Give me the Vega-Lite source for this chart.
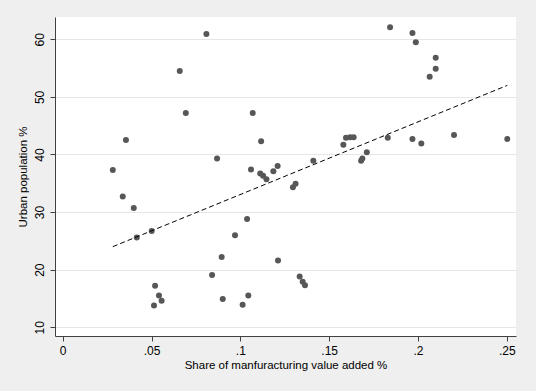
{
  "$schema": "https://vega.github.io/schema/vega-lite/v6.json",
  "width": 461,
  "height": 319,
  "autosize": {"type": "none"},
  "padding": {"left": 55, "top": 17, "right": 20, "bottom": 55},
  "background": "#efefef",
  "config": {
    "view": {"fill": "white", "stroke": null},
    "font": "Liberation Sans",
    "axis": {
      "labelFont": "Liberation Sans",
      "titleFont": "Liberation Sans",
      "labelFontSize": 12,
      "titleFontSize": 11.5,
      "titleFontWeight": "normal",
      "labelColor": "#000000",
      "titleColor": "#000000",
      "domainColor": "#404040",
      "tickColor": "#404040",
      "tickSize": 5,
      "gridColor": "#e6e6e6",
      "gridWidth": 1
    }
  },
  "datasets": {
    "pts": [
      {"share": 0.0809, "urban": 60.9},
      {"share": 0.0659, "urban": 54.5},
      {"share": 0.0693, "urban": 47.2},
      {"share": 0.0356, "urban": 42.5},
      {"share": 0.0282, "urban": 37.3},
      {"share": 0.0338, "urban": 32.7},
      {"share": 0.0400, "urban": 30.7},
      {"share": 0.0417, "urban": 25.6},
      {"share": 0.0501, "urban": 26.7},
      {"share": 0.0520, "urban": 17.2},
      {"share": 0.0542, "urban": 15.5},
      {"share": 0.0557, "urban": 14.6},
      {"share": 0.0514, "urban": 13.8},
      {"share": 0.0869, "urban": 39.3},
      {"share": 0.0841, "urban": 19.1},
      {"share": 0.0895, "urban": 22.2},
      {"share": 0.0970, "urban": 26.0},
      {"share": 0.1038, "urban": 28.8},
      {"share": 0.0901, "urban": 14.9},
      {"share": 0.1013, "urban": 13.9},
      {"share": 0.1045, "urban": 15.5},
      {"share": 0.1070, "urban": 47.2},
      {"share": 0.1117, "urban": 42.3},
      {"share": 0.1060, "urban": 37.4},
      {"share": 0.1112, "urban": 36.7},
      {"share": 0.1128, "urban": 36.3},
      {"share": 0.1147, "urban": 35.7},
      {"share": 0.1186, "urban": 37.1},
      {"share": 0.1210, "urban": 38.0},
      {"share": 0.1212, "urban": 21.6},
      {"share": 0.1334, "urban": 18.8},
      {"share": 0.1351, "urban": 17.9},
      {"share": 0.1364, "urban": 17.3},
      {"share": 0.1311, "urban": 34.9},
      {"share": 0.1296, "urban": 34.3},
      {"share": 0.1411, "urban": 38.9},
      {"share": 0.1580, "urban": 41.7},
      {"share": 0.1595, "urban": 42.9},
      {"share": 0.1618, "urban": 43.0},
      {"share": 0.1638, "urban": 43.0},
      {"share": 0.1712, "urban": 40.4},
      {"share": 0.1687, "urban": 39.3},
      {"share": 0.1680, "urban": 38.9},
      {"share": 0.1843, "urban": 62.1},
      {"share": 0.1969, "urban": 61.1},
      {"share": 0.1988, "urban": 59.5},
      {"share": 0.2100, "urban": 56.8},
      {"share": 0.2100, "urban": 54.9},
      {"share": 0.2066, "urban": 53.5},
      {"share": 0.1830, "urban": 42.9},
      {"share": 0.1969, "urban": 42.7},
      {"share": 0.2019, "urban": 41.9},
      {"share": 0.2203, "urban": 43.4},
      {"share": 0.2503, "urban": 42.7}
    ],
    "fit": [
      {"share": 0.0282, "urban": 24.0},
      {"share": 0.2503, "urban": 52.0}
    ]
  },
  "layer": [
    {
      "data": {"name": "pts"},
      "mark": {"type": "circle", "size": 36, "color": "#575757", "opacity": 1},
      "encoding": {
        "x": {
          "field": "share", "type": "quantitative",
          "scale": {"domain": [-0.00434, 0.2552], "nice": false, "zero": false},
          "axis": {
            "title": "Share of manfuracturing value added %",
            "values": [0, 0.05, 0.1, 0.15, 0.2, 0.25],
            "labelExpr": "replace(format(datum.value, '.2~f'), /^0\\./, '.')",
            "grid": false,
            "labelPadding": 4,
            "titlePadding": 3,
            "labelFlush": false,
            "labelOverlap": false
          }
        },
        "y": {
          "field": "urban", "type": "quantitative",
          "scale": {"domain": [8.49, 63.87], "nice": false, "zero": false},
          "axis": {
            "title": "Urban population %",
            "values": [10, 20, 30, 40, 50, 60],
            "grid": true,
            "labelAngle": -90,
            "labelAlign": "center",
            "labelBaseline": "bottom",
            "labelPadding": 4,
            "titlePadding": 5,
            "labelFlush": false,
            "labelOverlap": false
          }
        }
      }
    },
    {
      "data": {"name": "fit"},
      "mark": {"type": "line", "color": "#000000", "strokeWidth": 1, "strokeDash": [5, 3]},
      "encoding": {
        "x": {"field": "share", "type": "quantitative"},
        "y": {"field": "urban", "type": "quantitative"}
      }
    }
  ]
}
